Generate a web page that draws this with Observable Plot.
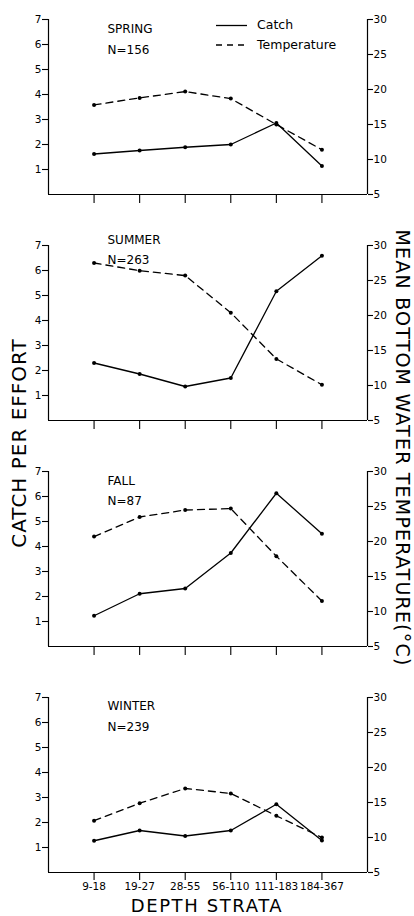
<!DOCTYPE html>
<html>
<head>
<meta charset="utf-8">
<script src="https://cdn.jsdelivr.net/npm/d3@7"></script>
<script src="https://cdn.jsdelivr.net/npm/@observablehq/plot@0.6"></script>
<style>
  html, body { margin: 0; padding: 0; background: #fff; }
  #root { position: relative; width: 414px; height: 916px; overflow: hidden; background: #fff;
          font-family: "DejaVu Sans", sans-serif; color: #000; }
  .panel { position: absolute; left: 0; }
  .rot { position: absolute; white-space: nowrap; font-size: 20px; letter-spacing: 1px; line-height: 1; }
</style>
</head>
<body>
<div id="root"></div>
<script>
// ---- data ----
const strata = ["9-18", "19-27", "28-55", "56-110", "111-183", "184-367"];
const seasonNames = ["SPRING", "SUMMER", "FALL", "WINTER"];
const sampleSizes = ["N=156", "N=263", "N=87", "N=239"];
const springCatch = [1.62, 1.76, 1.89, 2.00, 2.86, 1.14];
const springTemp  = [17.8, 18.8, 19.7, 18.7, 15.0, 11.4];
const summerCatch = [2.30, 1.86, 1.36, 1.70, 5.17, 6.59];
const summerTemp  = [27.5, 26.4, 25.7, 20.4, 13.8, 10.1];
const fallCatch   = [1.23, 2.11, 2.32, 3.74, 6.13, 4.51];
const fallTemp    = [20.7, 23.5, 24.5, 24.7, 17.9, 11.5];
const winterCatch = [1.27, 1.68, 1.46, 1.68, 2.73, 1.28];
const winterTemp  = [12.4, 14.9, 17.0, 16.3, 13.1, 10.0];
const catchTicks = [1, 2, 3, 4, 5, 6, 7];
const tempTicks  = [5, 10, 15, 20, 25, 30];

const catchSeries = [springCatch, summerCatch, fallCatch, winterCatch];
const tempSeries  = [springTemp, summerTemp, fallTemp, winterTemp];

// ---- layout ----
const FONT = '"DejaVu Sans", sans-serif';
const panelTops = [0, 226, 452, 678];
const titleDy = [5, -10, 4.5, 4];
const nDy = [26, 9.5, 24.5, 25];

// temperature (5..30) drawn on the catch scale (0..7)
const toC = t => (t - 5) * 7 / 25;
const fromC = c => c * 25 / 7 + 5;

const root = document.getElementById("root");

seasonNames.forEach((name, i) => {
  const last = i === seasonNames.length - 1;
  const rows = strata.map((s, j) => ({j, c: catchSeries[i][j], t: toC(tempSeries[i][j])}));
  const chart = Plot.plot({
    width: 414,
    height: last ? 238 : 225,
    marginLeft: 48, marginRight: 47, marginTop: 19, marginBottom: last ? 44 : 31,
    style: {fontFamily: FONT, fontSize: "10.5px", color: "black", background: "transparent", overflow: "visible"},
    x: {domain: [-1, strata.length], axis: null},
    y: {domain: [0, 7], axis: null},
    marks: [
      Plot.ruleY([0], {stroke: "black", strokeWidth: 1.2}),
      Plot.ruleX([-1, strata.length], {stroke: "black", strokeWidth: 1.2}),
      Plot.axisY(catchTicks, {anchor: "left", tickSize: 6, tickPadding: 1, label: null, strokeWidth: 1.1}),
      Plot.axisY(tempTicks.map(toC), {anchor: "right", tickSize: 5, tickPadding: 1, label: null, strokeWidth: 1.1,
        tickFormat: d => Math.round(fromC(d))}),
      Plot.axisX(d3.range(strata.length), {anchor: "bottom", tickSize: last ? 8 : 9, tickPadding: 2, label: null, strokeWidth: 1.1,
        tickFormat: last ? (d => strata[d]) : (() => "")}),
      Plot.line(rows, {x: "j", y: "t", stroke: "black", strokeWidth: 1.3, strokeDasharray: "7,5"}),
      Plot.dot(rows, {x: "j", y: "t", r: 2, fill: "black"}),
      Plot.line(rows, {x: "j", y: "c", stroke: "black", strokeWidth: 1.3}),
      Plot.dot(rows, {x: "j", y: "c", r: 2, fill: "black"}),
      Plot.text([name], {frameAnchor: "top-left", dx: 59, dy: titleDy[i], textAnchor: "start",
        fontSize: 12, letterSpacing: "0.5px"}),
      Plot.text([sampleSizes[i]], {frameAnchor: "top-left", dx: 59, dy: nDy[i], textAnchor: "start",
        fontSize: 12, letterSpacing: "0.5px"})
    ]
  });
  const wrap = document.createElement("div");
  wrap.className = "panel";
  wrap.style.top = panelTops[i] + "px";
  wrap.appendChild(chart);
  root.appendChild(wrap);
});

// legend (spring panel)
const legend = document.createElementNS("http://www.w3.org/2000/svg", "svg");
legend.setAttribute("width", 414);
legend.setAttribute("height", 60);
legend.style.position = "absolute";
legend.style.left = "0px";
legend.style.top = "0px";
legend.innerHTML = `
  <line x1="216" x2="247" y1="25.5" y2="25.5" stroke="black" stroke-width="1.3"/>
  <line x1="216" x2="247" y1="45" y2="45" stroke="black" stroke-width="1.3" stroke-dasharray="6,5"/>
  <text x="257" y="29" font-family='DejaVu Sans, sans-serif' font-size="12.5">Catch</text>
  <text x="257" y="48.5" font-family='DejaVu Sans, sans-serif' font-size="12.5">Temperature</text>`;
root.appendChild(legend);

// axis titles
function addLabel(text, cx, cy, rot, size, spacing) {
  const d = document.createElement("div");
  d.className = "rot";
  d.textContent = text;
  d.style.left = cx + "px";
  d.style.top = cy + "px";
  d.style.fontSize = size + "px";
  d.style.letterSpacing = spacing + "px";
  d.style.transform = `translate(-50%, -50%)` + (rot ? ` rotate(${rot}deg)` : "");
  root.appendChild(d);
}
addLabel("CATCH PER EFFORT", 19, 443, -90, 20, 1);
addLabel("MEAN BOTTOM WATER TEMPERATURE(°C)", 402, 448, 90, 19, 1.2);
addLabel("DEPTH STRATA", 207, 906, 0, 18, 1.6);
</script>
</body>
</html>
